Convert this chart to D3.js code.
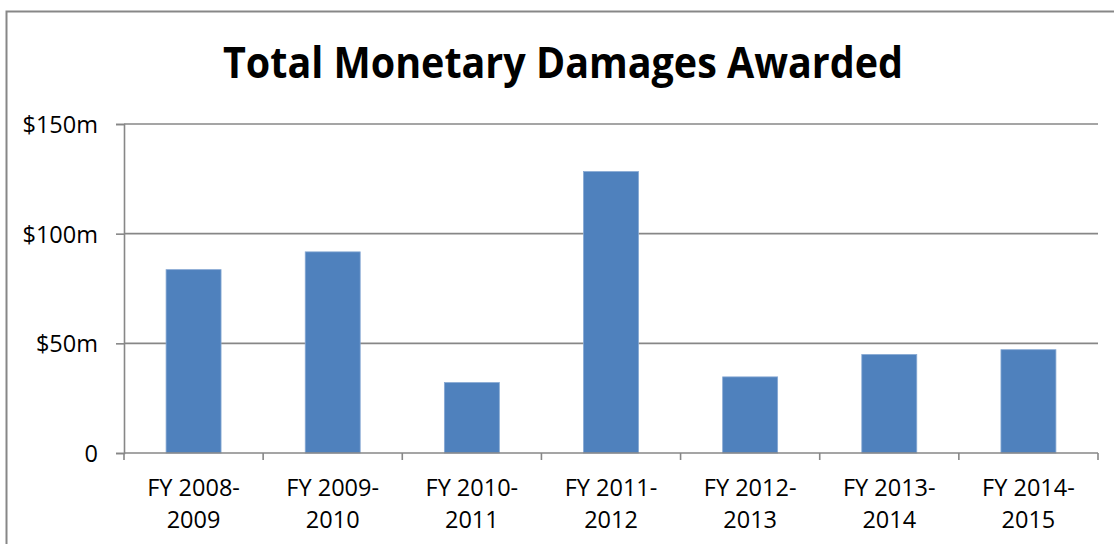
<!DOCTYPE html>
<html>
<head>
<meta charset="utf-8">
<script src="https://cdn.jsdelivr.net/npm/d3@7"></script>
<style>
  html, body { margin: 0; padding: 0; background: #fff; }
  svg { display: block; }
</style>
</head>
<body>
<svg id="chart" width="1114" height="544"></svg>
<script>
// Fiscal years and total awards (millions of dollars)
const categories = [
  ["FY 2008-", "2009"],
  ["FY 2009-", "2010"],
  ["FY 2010-", "2011"],
  ["FY 2011-", "2012"],
  ["FY 2012-", "2013"],
  ["FY 2013-", "2014"],
  ["FY 2014-", "2015"]
];
const awards = [83.6, 91.7, 32.1, 128.3, 34.7, 44.9, 47.1];
const yTicks = [0, 50, 100, 150];
const yTickLabels = ["0", "$50m", "$100m", "$150m"];
const title = "Total Monetary Damages Awarded";

const svg = d3.select("#chart");
const plot = { left: 124, right: 1098, top: 124, bottom: 453 };
const font = "'Open Sans', 'Liberation Sans', sans-serif";
const axisGrey = "#878787";
const labelSize = 23.5;

// chart frame
svg.append("rect")
  .attr("x", 6.5).attr("y", 11.5)
  .attr("width", 1200).attr("height", 700)
  .attr("fill", "#fff")
  .attr("stroke", axisGrey).attr("stroke-width", 2);

const keys = categories.map(c => c.join(" "));
const x = d3.scaleBand()
  .domain(keys)
  .range([plot.left, plot.right])
  .paddingInner(0.605)
  .paddingOuter(0.3025);

const y = d3.scaleLinear()
  .domain([0, 150])
  .range([plot.bottom, plot.top]);

// horizontal gridlines
svg.append("g")
  .selectAll("line")
  .data(yTicks.filter(t => t > 0))
  .join("line")
  .attr("x1", plot.left).attr("x2", plot.right)
  .attr("y1", d => y(d)).attr("y2", d => y(d))
  .attr("stroke", axisGrey).attr("stroke-width", 1.6);

// bars
svg.append("g")
  .selectAll("rect")
  .data(awards)
  .join("rect")
  .attr("x", (d, i) => x(keys[i]))
  .attr("width", x.bandwidth())
  .attr("y", d => y(d))
  .attr("height", d => y(0) - y(d))
  .attr("fill", "#4F81BD")
  .attr("stroke", "#86a8d3")
  .attr("stroke-width", 0.8);

// y axis
const yAxis = d3.axisLeft(y)
  .tickValues(yTicks)
  .tickFormat((d, i) => yTickLabels[i])
  .tickSize(8)
  .tickPadding(18);
const gy = svg.append("g")
  .attr("transform", `translate(${plot.left},0)`)
  .call(yAxis);
gy.select(".domain").attr("stroke", axisGrey).attr("stroke-width", 1.6);
gy.selectAll(".tick line").attr("stroke", axisGrey).attr("stroke-width", 1.6);
gy.selectAll(".tick text")
  .attr("font-family", font).attr("font-size", labelSize)
  .attr("fill", "#000")
  .attr("dy", "0.36em");

// x axis: ticks mark the boundaries between categories
const step = x.step();
const bounds = d3.range(categories.length + 1).map(i => plot.left + i * step);
const gx = svg.append("g");
gx.append("line")
  .attr("x1", plot.left).attr("x2", plot.right)
  .attr("y1", plot.bottom).attr("y2", plot.bottom)
  .attr("stroke", axisGrey).attr("stroke-width", 1.6);
gx.selectAll("line.tick")
  .data(bounds)
  .join("line")
  .attr("class", "tick")
  .attr("x1", d => d).attr("x2", d => d)
  .attr("y1", plot.bottom).attr("y2", plot.bottom + 7)
  .attr("stroke", axisGrey).attr("stroke-width", 1.6);

const labels = gx.selectAll("text")
  .data(categories)
  .join("text")
  .attr("x", (d, i) => x(keys[i]) + x.bandwidth() / 2)
  .attr("y", 496)
  .attr("text-anchor", "middle")
  .attr("font-family", font).attr("font-size", labelSize)
  .attr("fill", "#000");
labels.selectAll("tspan")
  .data(d => d)
  .join("tspan")
  .attr("x", function () { return d3.select(this.parentNode).attr("x"); })
  .attr("dy", (d, i) => i === 0 ? 0 : 31.5)
  .text(d => d);

// title
svg.append("text")
  .attr("x", 563).attr("y", 78)
  .attr("text-anchor", "middle")
  .attr("font-family", font)
  .attr("font-weight", "bold")
  .attr("font-size", 43)
  .attr("textLength", 680)
  .attr("lengthAdjust", "spacingAndGlyphs")
  .attr("fill", "#000")
  .text(title);
</script>
</body>
</html>
